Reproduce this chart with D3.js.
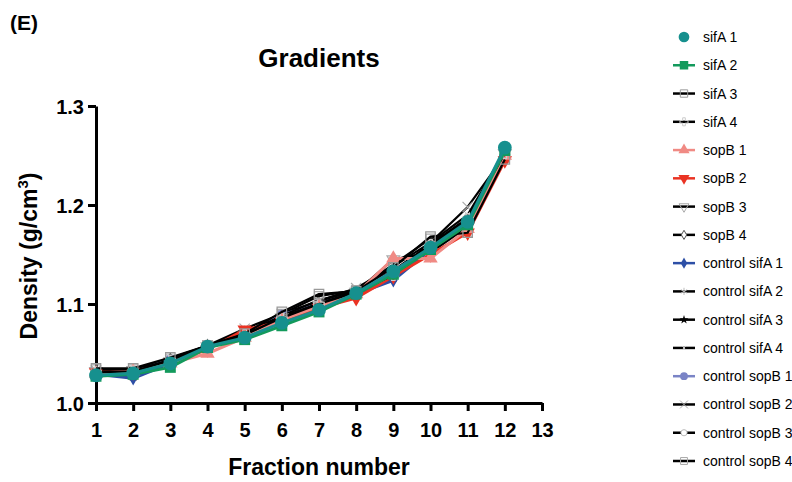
<!DOCTYPE html>
<html>
<head>
<meta charset="utf-8">
<script src="https://cdn.jsdelivr.net/npm/d3@7"></script>
<style>
  body { margin: 0; background: #fff; }
  svg { font-family: "Liberation Sans", Arial, sans-serif; }
</style>
</head>
<body>
<div class="forSvg"></div>
<script>
// -DATA-
const fractions = [1, 2, 3, 4, 5, 6, 7, 8, 9, 10, 11, 12];
const xTicks = [1, 2, 3, 4, 5, 6, 7, 8, 9, 10, 11, 12, 13];
const yTicks = [1.0, 1.1, 1.2, 1.3];
const seriesNames = ["sifA 1", "sifA 2", "sifA 3", "sifA 4", "sopB 1", "sopB 2", "sopB 3", "sopB 4",
  "control sifA 1", "control sifA 2", "control sifA 3", "control sifA 4",
  "control sopB 1", "control sopB 2", "control sopB 3", "control sopB 4"];

const sifA1 = [1.028, 1.030, 1.040, 1.057, 1.066, 1.081, 1.094, 1.111, 1.133, 1.157, 1.183, 1.258];
const sifA2 = [1.027, 1.029, 1.036, 1.056, 1.064, 1.078, 1.092, 1.110, 1.130, 1.155, 1.180, 1.255];
const sifA3 = [1.035, 1.035, 1.046, 1.058, 1.070, 1.092, 1.110, 1.113, 1.137, 1.168, 1.172, 1.246];
const sifA4 = [1.031, 1.032, 1.043, 1.058, 1.069, 1.086, 1.100, 1.112, 1.129, 1.160, 1.186, 1.252];
const sopB1 = [1.030, 1.032, 1.040, 1.050, 1.066, 1.084, 1.098, 1.110, 1.146, 1.146, 1.176, 1.250];
const sopB2 = [1.031, 1.031, 1.041, 1.054, 1.074, 1.082, 1.096, 1.106, 1.128, 1.150, 1.172, 1.245];
const sopB3 = [1.032, 1.033, 1.042, 1.057, 1.068, 1.086, 1.099, 1.112, 1.145, 1.152, 1.178, 1.252];
const sopB4 = [1.030, 1.031, 1.044, 1.058, 1.071, 1.087, 1.100, 1.111, 1.131, 1.158, 1.184, 1.254];
const ctlSifA1 = [1.029, 1.025, 1.040, 1.056, 1.067, 1.083, 1.097, 1.110, 1.124, 1.155, 1.180, 1.254];
const ctlSifA2 = [1.030, 1.026, 1.041, 1.057, 1.068, 1.085, 1.098, 1.110, 1.126, 1.156, 1.182, 1.255];
const ctlSifA3 = [1.031, 1.027, 1.042, 1.058, 1.070, 1.086, 1.101, 1.112, 1.127, 1.158, 1.185, 1.256];
const ctlSifA4 = [1.032, 1.033, 1.043, 1.058, 1.071, 1.088, 1.104, 1.113, 1.130, 1.162, 1.190, 1.253];
const ctlSopB1 = [1.030, 1.031, 1.044, 1.057, 1.069, 1.089, 1.100, 1.112, 1.133, 1.157, 1.184, 1.256];
const ctlSopB2 = [1.033, 1.032, 1.043, 1.058, 1.075, 1.090, 1.103, 1.116, 1.138, 1.162, 1.198, 1.250];
const ctlSopB3 = [1.032, 1.032, 1.043, 1.058, 1.070, 1.087, 1.102, 1.113, 1.134, 1.160, 1.187, 1.251];
const ctlSopB4 = [1.034, 1.034, 1.045, 1.058, 1.071, 1.090, 1.108, 1.114, 1.140, 1.166, 1.172, 1.247];

const seriesValues = [sifA1, sifA2, sifA3, sifA4, sopB1, sopB2, sopB3, sopB4,
  ctlSifA1, ctlSifA2, ctlSifA3, ctlSifA4, ctlSopB1, ctlSopB2, ctlSopB3, ctlSopB4];

// -STYLES- line colour, marker type, marker fill, marker stroke, marker size
const styles = [
  { line: "#16908e", lw: 3, sym: d3.symbolCircle, fill: "#16908e", stroke: "none", size: 150, legendLine: false },
  { line: "#139a5c", lw: 3, sym: d3.symbolSquare, fill: "#139a5c", stroke: "none", size: 120 },
  { line: "#000", sym: d3.symbolSquare, fill: "none", stroke: "#999", size: 90 },
  { line: "#000", sym: d3.symbolCross, fill: "none", stroke: "#ccc", size: 60 },
  { line: "#f08a84", lw: 3, sym: d3.symbolTriangle, fill: "#f08a84", stroke: "none", size: 90 },
  { line: "#ea3323", lw: 3, sym: d3.symbolTriangle, fill: "#ea3323", stroke: "none", size: 90, rot: 180 },
  { line: "#000", sym: d3.symbolTriangle, fill: "none", stroke: "#aaa", size: 70, rot: 180 },
  { line: "#000", sym: d3.symbolDiamond, fill: "#fff", stroke: "#555", size: 40 },
  { line: "#2d4fa6", lw: 3, sym: d3.symbolDiamond, fill: "#2d4fa6", stroke: "none", size: 60 },
  { line: "#000", sym: d3.symbolAsterisk, fill: "none", stroke: "#bbb", size: 60 },
  { line: "#000", sym: d3.symbolStar, fill: "#000", stroke: "none", size: 40 },
  { line: "#000", sym: d3.symbolTimes, fill: "none", stroke: "#ccc", size: 20 },
  { line: "#7a84c6", lw: 3, sym: d3.symbolCircle, fill: "#7a84c6", stroke: "none", size: 80 },
  { line: "#000", sym: d3.symbolTimes, fill: "none", stroke: "#aaa", size: 70 },
  { line: "#000", sym: d3.symbolCircle, fill: "#fff", stroke: "#bbb", size: 50 },
  { line: "#000", sym: d3.symbolSquare, fill: "none", stroke: "#aaa", size: 80 }
];

// -SIZES-
const svg_w = 792;
const svg_h = 482;

const xScale = d3.scaleLinear().domain([1, 13]).range([96, 542]);
const yScale = d3.scaleLinear().domain([1.0, 1.3]).range([403, 106]);

const svg = d3.select(".forSvg").append("svg")
  .attr("width", svg_w)
  .attr("height", svg_h);

// -TITLES-
svg.append("text")
  .attr("x", 10).attr("y", 30)
  .attr("font-size", "21px").attr("font-weight", "bold")
  .text("(E)");

svg.append("text")
  .attr("x", 319).attr("y", 67)
  .attr("text-anchor", "middle")
  .attr("font-size", "26px").attr("font-weight", "bold")
  .text("Gradients");

svg.append("text")
  .attr("x", 319).attr("y", 475)
  .attr("text-anchor", "middle")
  .attr("font-size", "23px").attr("font-weight", "bold")
  .text("Fraction number");

const yLab = svg.append("text")
  .attr("transform", "translate(37,256) rotate(-90)")
  .attr("text-anchor", "middle")
  .attr("font-size", "23px").attr("font-weight", "bold");
yLab.append("tspan").text("Density (g/cm");
yLab.append("tspan").attr("font-size", "15px").attr("dy", "-9").text("3");
yLab.append("tspan").attr("dy", "9").text(")");

// -AXES-
const xAxis = d3.axisBottom(xScale).tickValues(xTicks).tickSize(8).tickSizeOuter(0).tickPadding(6).tickFormat(d3.format("d"));
const yAxis = d3.axisLeft(yScale).tickValues(yTicks).tickSize(8).tickSizeOuter(0).tickPadding(4).tickFormat(d3.format(".1f"));

const gx = svg.append("g").attr("id", "x-axis")
  .attr("transform", "translate(0," + yScale(1.0) + ")")
  .call(xAxis);
const gy = svg.append("g").attr("id", "y-axis")
  .attr("transform", "translate(" + xScale(1) + ",0)")
  .call(yAxis);

[gx, gy].forEach(g => {
  g.selectAll("path.domain").attr("stroke", "#000").attr("stroke-width", 3);
  g.selectAll(".tick line").attr("stroke", "#000").attr("stroke-width", 3);
  g.selectAll(".tick text")
    .attr("fill", "#000")
    .attr("font-size", "20px")
    .attr("font-weight", "bold")
    .attr("font-family", "'Liberation Sans', Arial, sans-serif");
});
gx.selectAll(".tick text").attr("dy", "1em");
gy.selectAll(".tick text").attr("dy", "0.36em");

// -LINES & MARKERS- (drawn last series first so sifA 1 sits on top)
const line = d3.line()
  .x((d, i) => xScale(fractions[i]))
  .y(d => yScale(d));

const plot = svg.append("g");
for (let s = seriesValues.length - 1; s >= 0; s--) {
  const st = styles[s];
  const g = plot.append("g");
  g.append("path")
    .datum(seriesValues[s])
    .attr("d", line)
    .attr("fill", "none")
    .attr("stroke", st.line)
    .attr("stroke-width", st.lw || 2.2)
    .attr("stroke-linejoin", "round");
  g.selectAll("path.mark")
    .data(seriesValues[s])
    .enter()
    .append("path")
    .attr("class", "mark")
    .attr("d", d3.symbol().type(st.sym).size(st.size))
    .attr("transform", (d, i) => "translate(" + xScale(fractions[i]) + "," + yScale(d) + ") rotate(" + (st.rot || 0) + ")")
    .attr("fill", st.fill)
    .attr("stroke", st.stroke)
    .attr("stroke-width", 1.2);
}

// -LEGEND-
const legend = svg.append("g").attr("id", "legend");
const rowY = d3.scalePoint().domain(seriesNames).range([37, 461]);

seriesNames.forEach((name, s) => {
  const st = styles[s];
  const y = rowY(name);
  const row = legend.append("g").attr("transform", "translate(684," + y + ")");
  if (st.legendLine !== false) {
    row.append("line")
      .attr("x1", -11).attr("x2", 11)
      .attr("stroke", st.line)
      .attr("stroke-width", 2.5);
  }
  row.append("path")
    .attr("d", d3.symbol().type(st.sym).size(st.size * 0.6))
    .attr("transform", "rotate(" + (st.rot || 0) + ")")
    .attr("fill", st.fill)
    .attr("stroke", st.stroke)
    .attr("stroke-width", 1);
  row.append("text")
    .attr("x", 19).attr("y", 5)
    .attr("font-size", "14px")
    .text(name);
});
</script>
</body>
</html>
